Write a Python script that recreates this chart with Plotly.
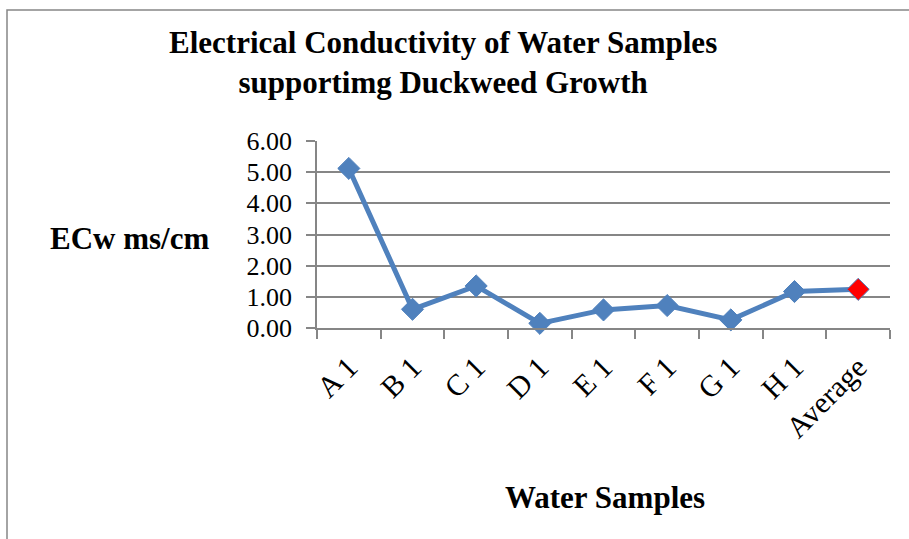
import plotly.graph_objects as go

samples = ["A 1", "B 1", "C 1", "D 1", "E 1", "F 1", "G 1", "H 1", "Average"]
ecw = [5.12, 0.60, 1.35, 0.15, 0.58, 0.72, 0.26, 1.17, 1.24]
marker_colors = ["#4F81BD"] * 8 + ["#FF0000"]
y_ticks = [0, 1, 2, 3, 4, 5, 6]
y_tick_text = ["0.00", "1.00", "2.00", "3.00", "4.00", "5.00", "6.00"]

FONT = "Liberation Serif, Times New Roman, serif"

L, R, T, B = 317, 890, 141, 328
W, H = R - L, B - T

fig = go.Figure()
fig.add_trace(go.Scatter(
    x=samples, y=ecw, mode="lines+markers",
    line=dict(color="#4F81BD", width=5),
    marker=dict(symbol="diamond", size=17, color=marker_colors,
                line=dict(color="#4F81BD", width=1)),
    showlegend=False, cliponaxis=False,
))

fig.update_layout(
    width=909, height=539,
    margin=dict(l=L, r=909 - R, t=T, b=539 - B),
    paper_bgcolor="white", plot_bgcolor="white",
    font=dict(family=FONT, color="black"),
    xaxis=dict(
        type="category", range=[-0.5, 8.5], tickson="boundaries",
        ticks="outside", ticklen=9, tickcolor="#868686", tickwidth=1.5,
        showline=True, linecolor="#868686", linewidth=1.5,
        showgrid=False, tickangle=-45, tickfont=dict(size=30, family=FONT),
        ticklabelstandoff=8,
    ),
    yaxis=dict(
        range=[0, 6], tickvals=y_ticks, ticktext=y_tick_text,
        ticks="outside", ticklen=9, tickcolor="#868686", tickwidth=1.5,
        showline=True, linecolor="#868686", linewidth=1.5,
        showgrid=True, gridcolor="#868686", gridwidth=1.5,
        zeroline=False, tickfont=dict(size=26, family=FONT),
        ticklabelstandoff=9,
    ),
    shapes=[dict(type="rect", xref="paper", yref="paper",
                 x0=(7 - L) / W, x1=1.2, y0=-1.5, y1=(B - 10) / H,
                 line=dict(color="#868686", width=1.5), layer="below")],
    annotations=[
        dict(text="<b>Electrical Conductivity of Water Samples<br>supportimg Duckweed Growth</b>",
             xref="paper", yref="paper", x=(443 - L) / W, y=(B - 62) / H,
             xanchor="center", yanchor="middle", showarrow=False,
             font=dict(size=31, family=FONT)),
        dict(text="<b>ECw ms/cm</b>", xref="paper", yref="paper",
             x=(129 - L) / W, y=(B - 238) / H,
             xanchor="center", yanchor="middle", showarrow=False,
             font=dict(size=31, family=FONT)),
        dict(text="<b>Water Samples</b>", xref="paper", yref="paper",
             x=(605 - L) / W, y=(B - 497) / H,
             xanchor="center", yanchor="middle", showarrow=False,
             font=dict(size=31, family=FONT)),
    ],
)

fig.write_html("out.html")
